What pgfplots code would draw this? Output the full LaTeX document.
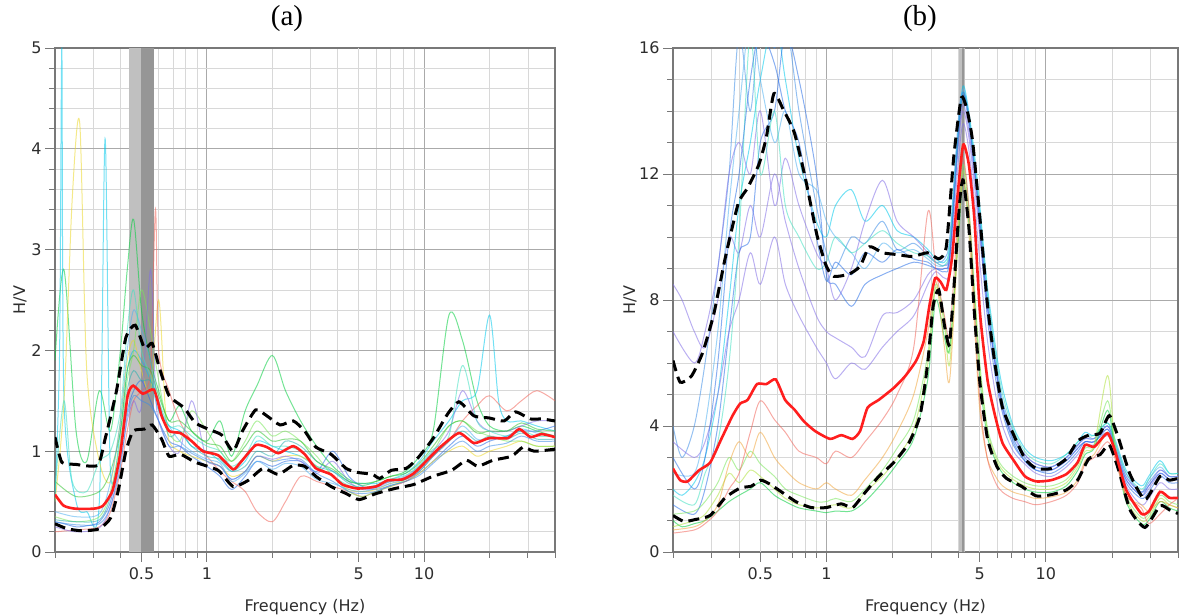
\documentclass[border=0pt]{standalone}
\usepackage{fontspec}
\usepackage{pgfplots}
\pgfplotsset{compat=1.18}
\setmainfont{Liberation Serif}
\newfontfamily\dvs{DejaVu Sans}
\definecolor{axisgray}{RGB}{120,120,120}
\definecolor{majorgray}{RGB}{170,170,170}
\definecolor{minorgray}{RGB}{216,216,216}
\definecolor{labelgray}{RGB}{45,45,45}
\definecolor{bandlight}{RGB}{192,192,192}
\definecolor{banddark}{RGB}{150,150,150}
\definecolor{medred}{RGB}{255,30,30}
\definecolor{cA}{RGB}{0,205,60}
\definecolor{cB}{RGB}{0,200,235}
\definecolor{cC}{RGB}{40,110,230}
\definecolor{cD}{RGB}{235,215,40}
\definecolor{cE}{RGB}{240,100,90}
\definecolor{cF}{RGB}{120,230,90}
\definecolor{cG}{RGB}{130,110,230}
\definecolor{cH}{RGB}{40,175,175}
\definecolor{cI}{RGB}{60,140,230}
\definecolor{cJ}{RGB}{50,195,50}
\definecolor{cK}{RGB}{240,165,60}
\definecolor{cL}{RGB}{175,225,60}
\definecolor{cM}{RGB}{80,176,240}
\definecolor{cN}{RGB}{64,224,192}
\pgfplotsset{
  indiv/.style={line width=1pt, opacity=0.55, smooth, tension=0.5, forget plot},
  med/.style={draw=medred, line width=2.6pt, smooth, tension=0.35},
  bound/.style={draw=black, line width=3pt, dash pattern=on 11pt off 6pt, smooth, tension=0.35},
}
\begin{document}
\begin{tikzpicture}
\path[use as bounding box] (-55pt,-63pt) rectangle (1124pt,552pt);
% ---------------- (a) ----------------
\begin{axis}[scale only axis, xmode=log,
    xmin=0.2, xmax=40,
    axis line style={draw=axisgray, line width=1.4pt},
    tick style={draw=axisgray, line width=0.8pt},
    tick align=outside, tick pos=left,
    major tick length=10pt, minor tick length=6pt,
    xtick={1,10}, xticklabels={1,10},
    extra x ticks={0.5,5}, extra x tick labels={0.5,5},
    extra x tick style={major grid style={draw=minorgray, line width=0.7pt}},
    minor xtick={0.2,0.3,0.4,0.6,0.7,0.8,0.9,2,3,4,6,7,8,9,20,30,40},
    grid=both,
    major grid style={draw=majorgray, line width=0.8pt},
    minor grid style={draw=minorgray, line width=0.7pt},
    ticklabel style={font=\dvs\fontsize{16}{16}\selectfont, text=labelgray},
    xticklabel style={yshift=-2pt},
    label style={font=\dvs\fontsize{16}{16}\selectfont, text=labelgray},
    xlabel={Frequency (Hz)}, ylabel={H/V},
    xlabel style={at={(axis description cs:0.5,-0.109)}, anchor=center},
    title style={font=\fontsize{29}{29}\selectfont, anchor=south, yshift=6.5pt},
  width=500pt, height=504pt, at={(0pt,0pt)}, anchor=south west,
  ymin=0, ymax=5, ytick={0,1,2,3,4,5}, minor y tick num=4,
  ylabel style={at={(axis description cs:-0.07,0.5)}, anchor=center},
  title={(a)}, title style={at={(axis description cs:0.464,1)}},
  /pgf/number format/assume math mode=true]
\addplot[fill=bandlight, draw=none, forget plot] coordinates {(0.437,0) (0.437,5) (0.57,5) (0.57,0)} -- cycle;
\addplot[fill=banddark, draw=none, forget plot] coordinates {(0.50,0) (0.50,5) (0.57,5) (0.57,0)} -- cycle;
\addplot[indiv, cA] coordinates {(0.2,1.9) (0.22,2.8) (0.25,1.2) (0.28,0.9) (0.32,1.6) (0.36,1.2) (0.4,2.0) (0.43,2.8) (0.46,3.3) (0.5,2.4) (0.55,1.9) (0.6,1.6) (0.67,1.3) (0.75,1.45) (0.85,1.2) (1.0,1.1) (1.15,1.3) (1.3,0.95) (1.5,1.4) (1.7,1.65) (2.0,1.95) (2.3,1.6) (2.7,1.3) (3.2,1.05) (3.8,0.85) (4.5,0.72) (5.2,0.66) (6.0,0.7) (7.0,0.75) (8.2,0.8) (9.5,0.95) (11,1.2) (13,2.35) (15,2.1) (17.5,1.5) (20,1.25) (24,1.2) (28,1.25) (33,1.2) (40,1.15)};
\addplot[indiv, cB] coordinates {(0.2,0.5) (0.21,2.0) (0.215,5.0) (0.22,1.5) (0.25,0.5) (0.28,0.4) (0.32,0.5) (0.34,4.1) (0.36,0.8) (0.4,1.2) (0.43,1.8) (0.46,2.0) (0.5,1.9) (0.55,1.7) (0.6,1.4) (0.67,1.25) (0.75,1.2) (0.85,1.05) (1.0,1.0) (1.15,0.9) (1.3,0.8) (1.5,0.9) (1.7,1.1) (2.0,1.05) (2.3,1.0) (2.7,0.95) (3.2,0.85) (3.8,0.8) (4.5,0.7) (5.2,0.68) (6.0,0.68) (7.0,0.72) (8.2,0.78) (9.5,0.9) (11,1.1) (13,1.3) (15,1.5) (17.5,1.6) (20,2.35) (22,1.5) (24,1.3) (28,1.3) (33,1.25) (40,1.2)};
\addplot[indiv, cC] coordinates {(0.2,0.3) (0.22,0.28) (0.25,0.25) (0.28,0.26) (0.32,0.3) (0.36,0.5) (0.4,1.0) (0.43,1.4) (0.46,1.6) (0.5,1.7) (0.55,1.5) (0.6,1.3) (0.67,1.1) (0.75,1.05) (0.85,0.95) (1.0,0.85) (1.15,0.75) (1.3,0.62) (1.5,0.75) (1.7,0.9) (2.0,0.85) (2.3,0.9) (2.7,0.9) (3.2,0.8) (3.8,1.0) (4.5,0.75) (5.2,0.65) (6.0,0.62) (7.0,0.66) (8.2,0.7) (9.5,0.78) (11,0.9) (13,1.05) (15,1.15) (17.5,1.05) (20,1.1) (24,1.15) (28,1.2) (33,1.2) (40,1.25)};
\addplot[indiv, cD] coordinates {(0.2,0.5) (0.22,1.5) (0.24,3.5) (0.26,4.25) (0.28,1.8) (0.32,0.9) (0.36,0.7) (0.4,1.3) (0.43,1.9) (0.46,2.1) (0.5,1.8) (0.55,1.6) (0.6,2.5) (0.64,1.5) (0.67,1.1) (0.75,1.0) (0.85,0.95) (1.0,0.9) (1.15,0.85) (1.3,0.75) (1.5,0.8) (1.7,0.95) (2.0,0.9) (2.3,0.95) (2.7,0.95) (3.2,0.85) (3.8,0.75) (4.5,0.62) (5.2,0.6) (6.0,0.62) (7.0,0.68) (8.2,0.7) (9.5,0.78) (11,0.9) (13,1.0) (15,1.05) (17.5,0.95) (20,1.0) (24,1.05) (28,1.1) (33,1.05) (40,1.05)};
\addplot[indiv, cE] coordinates {(0.2,0.2) (0.25,0.22) (0.32,0.25) (0.36,0.4) (0.4,0.8) (0.43,1.2) (0.46,1.5) (0.5,1.6) (0.55,1.8) (0.58,3.4) (0.6,2.0) (0.67,1.6) (0.75,1.3) (0.85,1.1) (1.0,0.95) (1.15,0.8) (1.3,0.7) (1.5,0.6) (1.7,0.4) (2.0,0.3) (2.3,0.5) (2.7,0.75) (3.2,0.7) (3.8,0.65) (4.5,0.6) (5.2,0.55) (6.0,0.6) (7.0,0.65) (8.2,0.7) (9.5,0.8) (11,0.95) (13,1.1) (15,1.3) (17.5,1.45) (20,1.55) (24,1.4) (28,1.5) (33,1.6) (40,1.5)};
\addplot[indiv, cF] coordinates {(0.2,0.35) (0.25,0.3) (0.32,0.35) (0.36,0.6) (0.4,1.1) (0.43,1.7) (0.46,2.0) (0.5,2.6) (0.55,2.2) (0.6,1.7) (0.67,1.2) (0.75,1.1) (0.85,1.4) (1.0,1.2) (1.15,1.0) (1.3,0.9) (1.5,1.1) (1.7,1.3) (2.0,1.15) (2.3,1.2) (2.7,1.1) (3.2,0.95) (3.8,0.75) (4.5,0.6) (5.2,0.55) (6.0,0.6) (7.0,0.65) (8.2,0.72) (9.5,0.85) (11,1.0) (13,1.25) (15,1.3) (17.5,1.2) (20,1.15) (24,1.1) (28,1.1) (33,1.05) (40,1.05)};
\addplot[indiv, cG] coordinates {(0.2,0.25) (0.25,0.2) (0.32,0.24) (0.36,0.45) (0.4,0.9) (0.43,1.3) (0.46,1.5) (0.5,1.45) (0.55,2.8) (0.58,1.6) (0.6,1.3) (0.67,1.05) (0.75,1.0) (0.85,1.5) (0.95,1.1) (1.0,0.9) (1.15,0.85) (1.3,0.72) (1.5,0.8) (1.7,0.95) (2.0,0.92) (2.3,0.95) (2.7,0.9) (3.2,0.78) (3.8,0.9) (4.5,0.7) (5.2,0.62) (6.0,0.64) (7.0,0.7) (8.2,0.75) (9.5,0.85) (11,1.0) (13,1.2) (15,1.6) (17.5,1.3) (20,1.2) (24,1.2) (28,1.25) (33,1.3) (40,1.3)};
\addplot[indiv, cH] coordinates {(0.2,0.32) (0.25,0.3) (0.32,0.32) (0.36,0.55) (0.4,1.0) (0.43,1.6) (0.46,1.8) (0.5,1.7) (0.55,1.7) (0.6,1.5) (0.67,1.15) (0.75,1.2) (0.85,1.05) (1.0,0.95) (1.15,0.92) (1.3,0.8) (1.5,0.85) (1.7,1.0) (2.0,0.95) (2.3,1.1) (2.7,1.05) (3.2,0.9) (3.8,0.8) (4.5,0.68) (5.2,0.64) (6.0,0.66) (7.0,0.7) (8.2,0.72) (9.5,0.8) (11,0.95) (13,1.1) (15,1.2) (17.5,1.1) (20,1.15) (24,1.12) (28,1.18) (33,1.12) (40,1.12)};
\addplot[indiv, cI] coordinates {(0.2,0.3) (0.25,0.27) (0.32,0.28) (0.36,0.45) (0.4,0.85) (0.43,1.35) (0.46,1.55) (0.5,1.5) (0.55,1.45) (0.6,1.3) (0.67,1.05) (0.75,1.05) (0.85,0.98) (1.0,0.9) (1.15,0.85) (1.3,0.72) (1.5,0.8) (1.7,0.95) (2.0,0.9) (2.3,0.92) (2.7,0.92) (3.2,0.78) (3.8,0.7) (4.5,0.6) (5.2,0.58) (6.0,0.6) (7.0,0.66) (8.2,0.7) (9.5,0.76) (11,0.88) (13,1.02) (15,1.1) (17.5,1.0) (20,1.05) (24,1.08) (28,1.15) (33,1.1) (40,1.1)};
\addplot[indiv, cJ] coordinates {(0.2,0.7) (0.25,0.55) (0.32,0.6) (0.36,0.8) (0.4,1.2) (0.43,1.8) (0.46,1.95) (0.5,1.85) (0.55,1.8) (0.6,1.55) (0.67,1.3) (0.75,1.3) (0.85,1.2) (1.0,1.08) (1.15,1.05) (1.3,0.9) (1.5,1.05) (1.7,1.2) (2.0,1.1) (2.3,1.12) (2.7,1.1) (3.2,0.9) (3.8,0.82) (4.5,0.7) (5.2,0.68) (6.0,0.7) (7.0,0.75) (8.2,0.78) (9.5,0.88) (11,1.05) (13,1.25) (15,1.3) (17.5,1.18) (20,1.2) (24,1.2) (28,1.28) (33,1.22) (40,1.2)};
\addplot[indiv, cM] coordinates {(0.2,0.4) (0.25,0.35) (0.32,0.38) (0.36,0.7) (0.4,1.3) (0.43,2.0) (0.46,2.4) (0.5,2.2) (0.55,1.9) (0.6,1.45) (0.67,1.25) (0.75,1.1) (0.85,1.0) (1.0,0.92) (1.15,0.88) (1.3,0.7) (1.5,0.78) (1.7,0.9) (2.0,0.82) (2.3,0.88) (2.7,0.85) (3.2,0.72) (3.8,0.68) (4.5,0.62) (5.2,0.6) (6.0,0.63) (7.0,0.68) (8.2,0.72) (9.5,0.8) (11,0.95) (13,1.1) (15,1.25) (17.5,1.12) (20,1.12) (24,1.15) (28,1.22) (33,1.18) (40,1.15)};
\addplot[indiv, cN] coordinates {(0.2,0.6) (0.22,1.5) (0.24,0.7) (0.28,0.6) (0.32,0.9) (0.36,1.0) (0.4,1.4) (0.43,2.2) (0.46,2.6) (0.5,2.0) (0.55,1.75) (0.6,1.5) (0.67,1.25) (0.75,1.25) (0.85,1.15) (1.0,1.05) (1.15,1.0) (1.3,0.85) (1.5,0.95) (1.7,1.15) (2.0,1.05) (2.3,1.05) (2.7,1.0) (3.2,0.85) (3.8,0.75) (4.5,0.66) (5.2,0.64) (6.0,0.66) (7.0,0.72) (8.2,0.76) (9.5,0.86) (11,1.02) (13,1.15) (15,1.85) (17.5,1.3) (20,1.2) (24,1.15) (28,1.2) (33,1.15) (40,1.15)};
\addplot[bound] coordinates {(0.200,1.14) (0.215,0.89) (0.247,0.87) (0.314,0.86) (0.340,1.12) (0.383,1.59) (0.424,2.13) (0.468,2.25) (0.517,2.02) (0.560,2.07) (0.606,1.82) (0.670,1.55) (0.786,1.43) (0.886,1.28) (1.039,1.21) (1.171,1.16) (1.320,1.00) (1.458,1.20) (1.677,1.41) (1.890,1.35) (2.174,1.26) (2.499,1.30) (2.818,1.20) (3.176,1.04) (3.725,0.97) (4.370,0.83) (4.925,0.79) (5.777,0.77) (6.256,0.73) (7.053,0.81) (8.274,0.83) (9.325,0.93) (10.94,1.12) (12.83,1.37) (14.46,1.49) (16.96,1.35) (19.90,1.33) (23.34,1.30) (26.31,1.39) (30.86,1.32) (34.79,1.32) (40.0,1.30)};
\addplot[bound] coordinates {(0.200,0.28) (0.228,0.23) (0.268,0.21) (0.320,0.23) (0.361,0.34) (0.391,0.61) (0.424,1.00) (0.458,1.20) (0.517,1.22) (0.560,1.26) (0.619,1.12) (0.670,0.95) (0.755,0.97) (0.886,0.89) (1.126,0.81) (1.320,0.65) (1.548,0.71) (1.816,0.83) (2.131,0.77) (2.499,0.86) (2.818,0.85) (3.176,0.75) (3.725,0.65) (4.370,0.58) (5.020,0.52) (6.010,0.58) (7.339,0.63) (8.960,0.67) (10.94,0.75) (13.36,0.81) (15.66,0.91) (17.65,0.85) (20.71,0.91) (25.28,0.95) (28.49,1.04) (32.12,1.00) (40.0,1.02)};
\addplot[med] coordinates {(0.200,0.57) (0.219,0.46) (0.247,0.43) (0.302,0.43) (0.333,0.46) (0.368,0.61) (0.399,0.97) (0.432,1.55) (0.458,1.65) (0.507,1.57) (0.571,1.61) (0.619,1.35) (0.670,1.20) (0.755,1.18) (0.851,1.10) (0.959,1.00) (1.126,0.96) (1.320,0.82) (1.430,0.89) (1.677,1.06) (1.890,1.04) (2.131,0.98) (2.499,1.05) (2.818,0.97) (3.176,0.83) (3.725,0.77) (4.200,0.67) (4.925,0.63) (6.010,0.65) (6.776,0.71) (7.952,0.72) (8.960,0.78) (10.10,0.89) (11.85,1.04) (14.46,1.18) (16.96,1.08) (19.90,1.13) (24.29,1.13) (27.38,1.22) (30.86,1.14) (34.79,1.17) (40.0,1.14)};
\end{axis}
% ---------------- (b) ----------------
\begin{axis}[scale only axis, xmode=log,
    xmin=0.2, xmax=40,
    axis line style={draw=axisgray, line width=1.4pt},
    tick style={draw=axisgray, line width=0.8pt},
    tick align=outside, tick pos=left,
    major tick length=10pt, minor tick length=6pt,
    xtick={1,10}, xticklabels={1,10},
    extra x ticks={0.5,5}, extra x tick labels={0.5,5},
    extra x tick style={major grid style={draw=minorgray, line width=0.7pt}},
    minor xtick={0.2,0.3,0.4,0.6,0.7,0.8,0.9,2,3,4,6,7,8,9,20,30,40},
    grid=both,
    major grid style={draw=majorgray, line width=0.8pt},
    minor grid style={draw=minorgray, line width=0.7pt},
    ticklabel style={font=\dvs\fontsize{16}{16}\selectfont, text=labelgray},
    xticklabel style={yshift=-2pt},
    label style={font=\dvs\fontsize{16}{16}\selectfont, text=labelgray},
    xlabel={Frequency (Hz)}, ylabel={H/V},
    xlabel style={at={(axis description cs:0.5,-0.109)}, anchor=center},
    title style={font=\fontsize{29}{29}\selectfont, anchor=south, yshift=6.5pt},
  width=505pt, height=504pt, at={(618pt,0pt)}, anchor=south west,
  ymin=0, ymax=16, ytick={0,4,8,12,16}, minor y tick num=3,
  ylabel style={at={(axis description cs:-0.085,0.5)}, anchor=center},
  title={(b)}, title style={at={(axis description cs:0.489,1)}},
  /pgf/number format/assume math mode=true]
\addplot[fill=bandlight, draw=none, forget plot] coordinates {(4.04,0) (4.04,16) (4.28,16) (4.28,0)} -- cycle;
\addplot[fill=banddark, draw=none, forget plot] coordinates {(4.13,0) (4.13,16) (4.24,16) (4.24,0)} -- cycle;
\addplot[indiv, cI] coordinates {(0.2,4) (0.22,3) (0.25,4) (0.28,6) (0.32,9) (0.36,12) (0.4,16.5) (0.45,14) (0.5,17) (0.58,16) (0.65,17) (0.75,14) (0.9,11) (1.0,9.5) (1.1,9) (1.3,10) (1.5,9.8) (1.8,10.5) (2.1,9.6) (2.5,9.8) (2.9,9.4) (3.15,9.2) (3.45,9.3) (3.65,10) (4.0,13.8) (4.2,14.6) (4.45,13.6) (4.75,12) (5.0,10.8) (5.4,8.2) (5.9,6.2) (6.35,4.8) (7.1,3.8) (8.0,3.1) (9.0,2.8) (10.6,2.7) (12.4,3.0) (14,3.4) (15.1,3.7) (16.6,3.6) (19.1,4.0) (20.6,3.5) (23.2,2.5) (27.2,1.9) (29.4,2.2) (33.1,2.6) (36.5,2.4) (40,2.4)};
\addplot[indiv, cB] coordinates {(0.2,2) (0.22,1.8) (0.25,2.2) (0.28,3) (0.32,5) (0.36,8) (0.4,11) (0.45,13) (0.5,15) (0.58,17) (0.65,15) (0.75,12.5) (0.9,10.5) (1.0,10) (1.1,11) (1.3,11.5) (1.5,10.5) (1.8,11) (2.1,10.2) (2.5,10) (2.9,9.6) (3.15,9.3) (3.45,9.2) (3.65,9.8) (4.0,13.5) (4.2,14.8) (4.45,14) (4.75,12.5) (5.0,11) (5.4,8.5) (5.9,6.5) (6.35,5.2) (7.1,4.0) (8.0,3.3) (9.0,3.0) (10.6,2.9) (12.4,3.1) (14,3.5) (15.1,3.8) (16.6,3.7) (19.1,4.1) (20.6,3.6) (23.2,2.6) (27.2,2.1) (29.4,2.4) (33.1,2.9) (36.5,2.5) (40,2.5)};
\addplot[indiv, cG] coordinates {(0.2,8.5) (0.22,8) (0.25,7) (0.28,6.5) (0.32,8) (0.36,10) (0.4,9.5) (0.45,11) (0.5,10) (0.58,12) (0.65,10.5) (0.75,9) (0.9,7.5) (1.0,7) (1.1,6.8) (1.3,6.5) (1.5,6.2) (1.8,7.5) (2.1,7.6) (2.5,8.0) (2.9,8.8) (3.15,9.0) (3.45,9.0) (3.65,9.4) (4.0,13.0) (4.2,14.0) (4.45,13.2) (4.75,11.5) (5.0,10.0) (5.4,7.8) (5.9,5.8) (6.35,4.5) (7.1,3.6) (8.0,3.0) (9.0,2.7) (10.6,2.6) (12.4,2.9) (14,3.3) (15.1,3.5) (16.6,3.5) (19.1,3.9) (20.6,3.3) (23.2,2.3) (27.2,1.8) (29.4,2.0) (33.1,2.5) (36.5,2.3) (40,2.3)};
\addplot[indiv, cC] coordinates {(0.2,1.5) (0.25,1.2) (0.28,2) (0.32,4) (0.36,7) (0.4,9.5) (0.45,10) (0.5,13) (0.58,14) (0.65,16.5) (0.75,15) (0.9,12) (1.0,8.8) (1.1,8.5) (1.3,7.8) (1.5,8.5) (1.8,8.8) (2.1,9.0) (2.5,9.2) (2.9,9.1) (3.15,9.0) (3.45,8.9) (3.65,9.3) (4.0,13.2) (4.2,14.5) (4.45,13.8) (4.75,12.0) (5.0,10.3) (5.4,7.5) (5.9,5.5) (6.35,4.4) (7.1,3.4) (8.0,2.9) (9.0,2.6) (10.6,2.5) (12.4,2.8) (14,3.2) (15.1,3.5) (16.6,3.5) (19.1,3.8) (20.6,3.3) (23.2,2.2) (27.2,1.7) (29.4,1.9) (33.1,2.4) (36.5,2.2) (40,2.2)};
\addplot[indiv, cG] coordinates {(0.2,3.5) (0.25,3.0) (0.28,3.5) (0.32,5) (0.36,7) (0.4,8) (0.45,9.5) (0.5,8.5) (0.58,10) (0.65,8.5) (0.75,7.5) (0.9,6.5) (1.0,6.0) (1.1,5.5) (1.3,6.0) (1.5,5.8) (1.8,6.5) (2.1,7.0) (2.5,7.5) (2.9,8.5) (3.15,8.9) (3.45,8.7) (3.65,9.0) (4.0,12.5) (4.2,13.6) (4.45,12.8) (4.75,11.0) (5.0,9.2) (5.4,6.8) (5.9,5.0) (6.35,4.0) (7.1,3.2) (8.0,2.8) (9.0,2.5) (10.6,2.4) (12.4,2.7) (14,3.1) (15.1,3.4) (16.6,3.4) (19.1,3.7) (20.6,3.2) (23.2,2.1) (27.2,1.5) (29.4,1.7) (33.1,2.2) (36.5,2.0) (40,2.0)};
\addplot[indiv, cM] coordinates {(0.2,2.5) (0.25,2.5) (0.28,4) (0.32,7) (0.36,11) (0.4,14) (0.45,17) (0.5,15) (0.58,13) (0.65,14) (0.75,12) (0.9,11.5) (1.0,10.5) (1.1,10) (1.3,9.5) (1.5,9.0) (1.8,9.8) (2.1,9.5) (2.5,9.6) (2.9,9.3) (3.15,9.1) (3.45,9.1) (3.65,9.6) (4.0,13.6) (4.2,14.7) (4.45,13.9) (4.75,12.2) (5.0,10.6) (5.4,8.0) (5.9,6.0) (6.35,4.7) (7.1,3.6) (8.0,3.0) (9.0,2.7) (10.6,2.7) (12.4,3.0) (14,3.4) (15.1,3.6) (16.6,3.6) (19.1,4.0) (20.6,3.4) (23.2,2.4) (27.2,1.9) (29.4,2.3) (33.1,2.7) (36.5,2.4) (40,2.4)};
\addplot[indiv, cG] coordinates {(0.2,7) (0.25,6) (0.28,7) (0.32,9) (0.36,12) (0.4,13) (0.45,12) (0.5,14) (0.58,11) (0.65,12.5) (0.75,11) (0.9,9.5) (1.0,9) (1.1,8) (1.3,9) (1.5,10.5) (1.8,11.8) (2.1,10.5) (2.5,10) (2.9,9.5) (3.15,9.2) (3.45,9.1) (3.65,9.5) (4.0,13.2) (4.2,14.2) (4.45,13.4) (4.75,11.8) (5.0,10.2) (5.4,7.9) (5.9,5.9) (6.35,4.6) (7.1,3.7) (8.0,3.1) (9.0,2.8) (10.6,2.7) (12.4,3.0) (14,3.4) (15.1,3.6) (16.6,3.6) (19.1,4.0) (20.6,3.4) (23.2,2.4) (27.2,1.9) (29.4,2.1) (33.1,2.6) (36.5,2.4) (40,2.4)};
\addplot[indiv, cN] coordinates {(0.2,1.8) (0.25,1.5) (0.28,2.5) (0.32,3.5) (0.36,6) (0.4,10) (0.45,16.5) (0.5,12) (0.58,14) (0.65,11) (0.75,10) (0.9,9) (1.0,9.2) (1.1,10) (1.3,9.5) (1.5,9.8) (1.8,10.2) (2.1,9.8) (2.5,9.5) (2.9,9.4) (3.15,9.2) (3.45,9.1) (3.65,9.7) (4.0,13.4) (4.2,14.6) (4.45,13.9) (4.75,12.3) (5.0,10.8) (5.4,8.3) (5.9,6.3) (6.35,5.0) (7.1,3.9) (8.0,3.2) (9.0,2.9) (10.6,2.8) (12.4,3.1) (14,3.5) (15.1,3.7) (16.6,3.7) (19.1,4.1) (20.6,3.5) (23.2,2.5) (27.2,2.0) (29.4,2.3) (33.1,2.8) (36.5,2.5) (40,2.5)};
\addplot[indiv, cC] coordinates {(0.2,3) (0.25,2) (0.28,3) (0.32,6) (0.36,10) (0.4,12) (0.45,15) (0.5,16.5) (0.58,15.5) (0.65,14) (0.75,13) (0.9,10) (1.0,8.6) (1.1,9.2) (1.3,8.8) (1.5,9.5) (1.8,9.2) (2.1,9.6) (2.5,9.3) (2.9,9.2) (3.15,9.0) (3.45,9.0) (3.65,9.4) (4.0,13.4) (4.2,14.6) (4.45,13.8) (4.75,12.1) (5.0,10.5) (5.4,7.9) (5.9,5.9) (6.35,4.6) (7.1,3.5) (8.0,2.9) (9.0,2.6) (10.6,2.6) (12.4,2.9) (14,3.3) (15.1,3.5) (16.6,3.5) (19.1,3.9) (20.6,3.3) (23.2,2.3) (27.2,1.8) (29.4,2.1) (33.1,2.5) (36.5,2.3) (40,2.3)};
\addplot[indiv, cA] coordinates {(0.2,1.0) (0.22,0.8) (0.25,0.9) (0.28,1.0) (0.32,1.3) (0.36,1.6) (0.4,1.8) (0.45,2.0) (0.5,2.2) (0.58,1.8) (0.65,1.6) (0.75,1.4) (0.9,1.3) (1.0,1.25) (1.1,1.3) (1.3,1.3) (1.5,1.6) (1.8,2.2) (2.1,2.8) (2.5,3.6) (2.9,5.5) (3.15,8.0) (3.45,6.8) (3.65,6.5) (4.0,10.0) (4.2,11.8) (4.45,10.5) (4.75,7.8) (5.0,5.5) (5.4,3.7) (5.9,2.9) (6.35,2.5) (7.1,2.2) (8.0,2.0) (9.0,1.9) (10.6,1.9) (12.4,2.1) (14,2.6) (15.1,3.1) (16.6,3.3) (19.1,4.5) (20.6,3.3) (23.2,1.6) (27.2,0.9) (29.4,1.0) (33.1,1.6) (36.5,1.4) (40,1.3)};
\addplot[indiv, cL] coordinates {(0.2,0.8) (0.25,1.0) (0.28,1.2) (0.32,1.8) (0.36,2.5) (0.4,2.2) (0.45,2.6) (0.5,2.4) (0.58,2.0) (0.65,1.7) (0.75,1.5) (0.9,1.4) (1.0,1.45) (1.1,1.5) (1.3,1.4) (1.5,1.9) (1.8,2.4) (2.1,3.0) (2.5,3.9) (2.9,6.0) (3.15,8.4) (3.45,7.2) (3.65,6.0) (4.0,10.4) (4.2,12.1) (4.45,10.8) (4.75,8.0) (5.0,5.8) (5.4,3.9) (5.9,3.0) (6.35,2.6) (7.1,2.3) (8.0,2.1) (9.0,2.0) (10.6,2.0) (12.4,2.2) (14,2.7) (15.1,3.2) (16.6,3.4) (19.1,5.6) (20.6,3.5) (23.2,1.7) (27.2,1.0) (29.4,1.1) (33.1,1.7) (36.5,1.5) (40,1.4)};
\addplot[indiv, cF] coordinates {(0.2,1.2) (0.25,1.3) (0.28,1.6) (0.32,2.2) (0.36,3.0) (0.4,2.6) (0.45,3.2) (0.5,2.8) (0.58,2.4) (0.65,2.0) (0.75,1.8) (0.9,1.6) (1.0,1.6) (1.1,1.7) (1.3,1.6) (1.5,2.0) (1.8,2.6) (2.1,3.3) (2.5,4.2) (2.9,6.3) (3.15,8.5) (3.45,7.4) (3.65,6.4) (4.0,10.6) (4.2,12.3) (4.45,11.0) (4.75,8.2) (5.0,6.0) (5.4,4.0) (5.9,3.1) (6.35,2.7) (7.1,2.4) (8.0,2.2) (9.0,2.1) (10.6,2.1) (12.4,2.3) (14,2.8) (15.1,3.3) (16.6,3.4) (19.1,4.8) (20.6,3.4) (23.2,1.8) (27.2,1.1) (29.4,1.2) (33.1,1.8) (36.5,1.6) (40,1.5)};
\addplot[indiv, cK] coordinates {(0.2,0.7) (0.25,0.8) (0.28,1.0) (0.32,1.5) (0.36,2.8) (0.4,3.5) (0.45,3.0) (0.5,3.8) (0.58,3.0) (0.65,2.6) (0.75,2.2) (0.9,2.0) (1.0,2.2) (1.1,2.0) (1.3,1.8) (1.5,2.3) (1.8,3.0) (2.1,3.8) (2.5,5.0) (2.9,7.0) (3.15,8.6) (3.45,6.5) (3.65,5.5) (4.0,10.2) (4.2,11.8) (4.45,10.2) (4.75,7.0) (5.0,4.5) (5.4,3.0) (5.9,2.4) (6.35,2.1) (7.1,1.9) (8.0,1.8) (9.0,1.7) (10.6,1.75) (12.4,1.9) (14,2.3) (15.1,2.9) (16.6,3.1) (19.1,3.8) (20.6,3.1) (23.2,1.8) (27.2,1.5) (29.4,1.3) (33.1,1.6) (36.5,1.5) (40,1.4)};
\addplot[indiv, cE] coordinates {(0.2,0.6) (0.25,0.7) (0.28,0.9) (0.32,1.3) (0.36,2.0) (0.4,2.5) (0.45,3.8) (0.5,4.8) (0.58,4.2) (0.65,3.8) (0.75,3.2) (0.9,3.0) (1.0,2.8) (1.1,3.2) (1.3,3.0) (1.5,3.5) (1.8,4.2) (2.1,5.0) (2.5,6.5) (2.9,10.8) (3.15,9.0) (3.45,7.5) (3.65,7.0) (4.0,11.0) (4.2,12.5) (4.45,11.0) (4.75,7.5) (5.0,4.8) (5.4,3.0) (5.9,2.2) (6.35,1.9) (7.1,1.7) (8.0,1.6) (9.0,1.5) (10.6,1.6) (12.4,1.8) (14,2.2) (15.1,2.8) (16.6,3.0) (19.1,3.5) (20.6,3.0) (23.2,1.8) (27.2,1.4) (29.4,0.9) (33.1,1.2) (36.5,1.5) (40,1.7)};
\addplot[bound] coordinates {(0.200,6.08) (0.2156,5.39) (0.2425,5.58) (0.2729,6.33) (0.3071,7.57) (0.3454,9.31) (0.3964,11.06) (0.4375,11.56) (0.4924,12.30) (0.5326,13.17) (0.5762,14.55) (0.6355,14.05) (0.7152,13.30) (0.8049,11.81) (0.9057,10.06) (1.000,9.07) (1.081,8.75) (1.265,8.82) (1.424,9.07) (1.571,9.69) (1.803,9.50) (2.110,9.44) (2.469,9.38) (2.890,9.50) (3.252,9.31) (3.518,9.69) (3.805,12.55) (4.117,14.42) (4.368,14.05) (4.634,13.05) (5.012,10.56) (5.424,7.82) (5.866,5.95) (6.346,4.58) (7.142,3.71) (8.035,2.96) (9.042,2.65) (10.58,2.65) (12.39,2.96) (13.94,3.52) (15.69,3.71) (17.65,3.77) (19.47,4.33) (21.48,3.59) (24.17,2.47) (28.29,1.66) (33.11,2.40) (36.53,2.28) (40.0,2.34)};
\addplot[bound] coordinates {(0.200,1.16) (0.2241,0.97) (0.2522,1.03) (0.2953,1.16) (0.3454,1.72) (0.4044,2.03) (0.4550,2.09) (0.5021,2.28) (0.5540,2.15) (0.6232,1.91) (0.7295,1.59) (0.8538,1.41) (1.000,1.41) (1.169,1.53) (1.316,1.41) (1.481,1.84) (1.733,2.40) (2.028,2.84) (2.374,3.46) (2.671,4.33) (2.890,5.95) (3.065,7.82) (3.252,8.32) (3.449,7.20) (3.631,6.58) (3.805,8.32) (4.037,11.06) (4.200,11.81) (4.456,10.31) (4.726,7.57) (5.012,5.33) (5.424,3.59) (5.983,2.71) (6.601,2.34) (7.726,2.09) (9.042,1.78) (10.58,1.82) (12.39,1.97) (13.94,2.28) (15.69,2.96) (17.65,3.09) (19.47,3.40) (21.48,2.59) (24.17,1.34) (28.29,0.78) (33.11,1.47) (36.53,1.34) (40.0,1.22)};
\addplot[med] coordinates {(0.200,2.65) (0.2156,2.28) (0.2332,2.24) (0.2623,2.59) (0.2953,2.84) (0.3322,3.59) (0.3737,4.33) (0.4044,4.71) (0.4375,4.83) (0.4827,5.33) (0.5326,5.33) (0.5875,5.48) (0.6482,4.83) (0.7152,4.52) (0.7893,4.15) (0.8879,3.84) (1.039,3.59) (1.169,3.71) (1.316,3.59) (1.424,3.84) (1.540,4.58) (1.733,4.83) (2.028,5.21) (2.283,5.58) (2.568,6.08) (2.778,6.70) (2.947,7.82) (3.126,8.69) (3.316,8.57) (3.518,8.32) (3.732,9.31) (3.958,11.31) (4.200,12.93) (4.456,12.30) (4.726,10.56) (5.012,7.57) (5.424,5.45) (5.866,4.33) (6.346,3.46) (7.142,2.90) (8.035,2.40) (9.042,2.24) (10.58,2.28) (12.39,2.47) (13.94,2.84) (15.08,3.40) (16.63,3.34) (19.09,3.77) (20.65,3.21) (23.24,1.97) (27.20,1.22) (29.42,1.28) (33.11,1.91) (36.53,1.72) (40.0,1.72)};
\end{axis}
\end{tikzpicture}
\end{document}
